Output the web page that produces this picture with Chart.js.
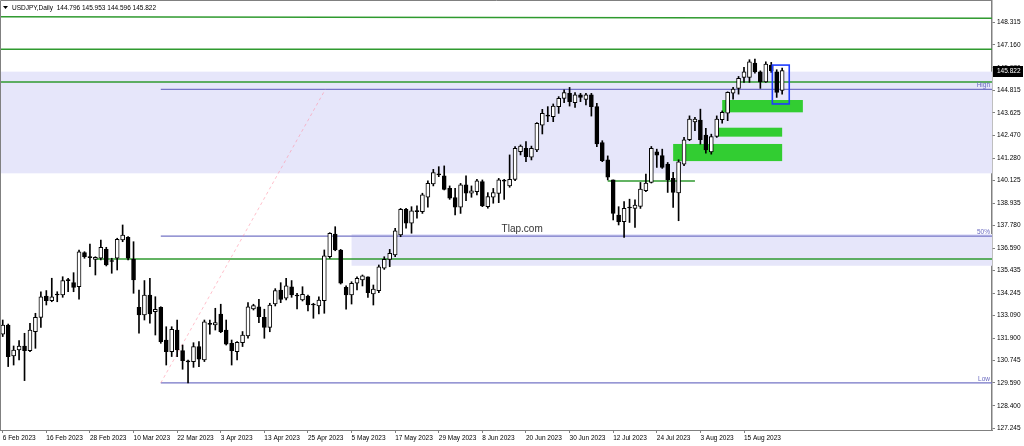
<!DOCTYPE html>
<html>
<head>
<meta charset="utf-8">
<script src="https://cdn.jsdelivr.net/npm/chart.js@4.4.0/dist/chart.umd.min.js"></script>
<style>
  html, body { margin: 0; padding: 0; background: #fff; }
  #wrap { width: 1024px; height: 446px; }
</style>
</head>
<body>
<div id="wrap"><canvas id="chart" width="1024" height="446"></canvas></div>
<script>
// USDJPY daily candles, 6 Feb 2023 .. 24 Aug 2023
const opens = [
  132.13, 132.60, 130.99, 131.30, 131.51, 131.27, 132.25, 133.00, 134.11, 133.87,
  134.16, 134.16, 134.91, 134.80, 134.59, 136.36, 136.10, 136.01, 136.07, 136.53,
  135.90, 136.07, 137.02, 137.16, 136.01, 133.52, 133.12, 134.16, 133.29, 133.52,
  131.82, 131.22, 132.34, 131.27, 130.70, 130.70, 131.48, 130.78, 132.64, 132.60,
  133.17, 132.34, 131.65, 131.22, 131.68, 132.03, 133.43, 133.55, 133.00, 132.48,
  133.69, 134.42, 133.99, 134.59, 134.12, 133.90, 134.11, 133.64, 133.59, 133.87,
  136.15, 137.33, 136.50, 134.56, 134.16, 134.77, 134.94, 135.11, 134.21, 134.39,
  135.55, 136.01, 136.24, 137.28, 138.61, 137.89, 138.50, 138.49, 139.24, 139.93,
  140.40, 140.35, 139.70, 139.22, 138.72, 139.88, 139.45, 139.53, 140.05, 138.75,
  139.24, 139.44, 140.08, 139.83, 140.17, 141.61, 141.78, 141.32, 141.70, 142.99,
  143.46, 143.43, 143.95, 144.38, 144.64, 144.16, 144.56, 144.33, 144.56, 143.95,
  142.08, 141.18, 140.14, 138.32, 137.97, 138.68, 138.66, 138.76, 139.58, 140.01,
  141.60, 141.40, 140.96, 140.22, 139.46, 140.96, 142.23, 143.16, 143.25, 142.47,
  141.60, 142.40, 143.27, 143.61, 144.65, 144.90, 145.47, 145.47, 146.21, 145.76,
  145.24, 146.11, 145.76, 144.796
];
const highs = [
  132.86, 132.65, 131.51, 131.79, 132.17, 132.69, 133.21, 134.33, 134.39, 135.03,
  134.33, 135.11, 135.03, 135.32, 136.50, 136.41, 136.81, 136.15, 137.02, 136.64,
  136.07, 137.11, 137.80, 137.19, 136.93, 134.42, 134.91, 135.03, 134.07, 133.55,
  132.51, 132.51, 132.86, 131.56, 130.78, 131.68, 131.74, 132.86, 132.86, 133.47,
  133.68, 132.86, 131.82, 131.74, 132.26, 133.76, 133.68, 133.93, 133.42, 133.73,
  134.49, 134.80, 135.03, 134.91, 134.25, 134.59, 134.16, 133.73, 134.07, 136.50,
  137.40, 137.71, 136.53, 134.63, 134.85, 135.11, 135.20, 135.11, 134.68, 135.72,
  136.15, 136.53, 137.62, 138.66, 138.66, 138.75, 138.79, 139.45, 140.10, 140.69,
  140.83, 140.87, 139.83, 139.70, 139.96, 140.35, 139.83, 140.17, 140.14, 139.48,
  139.70, 140.22, 140.17, 141.44, 141.87, 141.96, 142.13, 141.90, 143.12, 143.81,
  143.95, 144.09, 144.47, 144.82, 144.95, 144.68, 144.64, 144.64, 144.64, 144.12,
  142.18, 141.39, 140.14, 138.75, 139.01, 139.14, 139.11, 140.01, 140.44, 141.88,
  141.74, 141.74, 141.05, 140.53, 141.19, 142.35, 143.47, 143.39, 143.82, 142.82,
  142.52, 143.47, 143.73, 144.72, 144.95, 145.52, 145.99, 146.39, 146.42, 145.81,
  146.28, 146.25, 145.87, 145.953
];
const lows = [
  132.00, 130.44, 130.52, 130.78, 129.71, 131.22, 131.39, 132.48, 133.64, 133.81,
  133.81, 134.04, 134.33, 134.33, 133.94, 136.07, 135.63, 135.20, 135.98, 135.67,
  135.29, 135.46, 136.93, 135.98, 134.25, 132.17, 132.86, 132.69, 132.08, 131.65,
  130.52, 130.96, 130.96, 130.30, 129.59, 130.40, 130.44, 130.70, 132.13, 132.34,
  132.20, 131.56, 130.52, 130.78, 131.48, 131.91, 133.38, 132.72, 131.91, 132.25,
  133.59, 133.76, 133.90, 134.04, 133.43, 133.85, 133.33, 132.95, 133.17, 133.21,
  136.07, 136.46, 134.73, 133.42, 133.69, 134.42, 134.63, 134.04, 133.64, 134.28,
  135.49, 135.63, 136.15, 137.19, 137.63, 137.37, 138.15, 138.40, 138.72, 139.83,
  140.31, 139.62, 139.13, 138.32, 138.40, 139.06, 139.24, 139.36, 138.75, 138.67,
  138.93, 138.96, 139.13, 139.76, 140.10, 141.44, 141.09, 141.18, 141.61, 142.53,
  143.17, 143.17, 143.60, 144.16, 143.98, 143.91, 144.21, 144.04, 143.46, 141.87,
  141.09, 140.14, 138.06, 137.80, 137.15, 137.93, 137.67, 138.66, 139.53, 139.98,
  140.79, 140.74, 139.49, 138.71, 138.02, 140.88, 142.18, 142.70, 142.00, 141.53,
  141.48, 142.35, 143.09, 143.22, 144.34, 144.60, 145.21, 145.21, 145.69, 144.90,
  145.21, 145.73, 144.43, 144.596
];
const closes = [
  132.60, 130.96, 131.30, 131.51, 131.27, 132.34, 133.00, 134.07, 133.87, 134.07,
  134.18, 134.91, 134.93, 134.56, 136.41, 136.15, 136.11, 136.12, 136.64, 135.72,
  135.92, 137.05, 137.28, 136.07, 134.94, 133.12, 134.16, 133.17, 133.42, 131.74,
  131.22, 132.38, 131.30, 130.75, 130.68, 131.48, 130.82, 132.77, 132.63, 132.72,
  132.25, 131.61, 131.27, 131.70, 132.08, 133.55, 133.61, 133.03, 132.48, 133.64,
  134.39, 133.93, 134.63, 134.16, 134.11, 134.20, 133.64, 133.65, 133.90, 136.19,
  137.37, 136.50, 134.77, 134.16, 134.77, 135.03, 135.15, 134.28, 134.47, 135.63,
  136.01, 136.33, 137.50, 138.61, 137.89, 138.53, 138.49, 139.36, 139.96, 140.52,
  140.42, 139.65, 139.19, 138.72, 139.88, 139.45, 139.58, 140.10, 138.79, 139.27,
  139.48, 140.14, 140.09, 140.17, 141.78, 141.90, 141.35, 141.78, 143.08, 143.60,
  143.47, 143.98, 144.38, 144.68, 144.21, 144.56, 144.43, 144.56, 143.95, 142.01,
  141.14, 140.28, 138.40, 137.97, 138.66, 138.69, 138.83, 139.66, 139.98, 141.78,
  141.43, 140.79, 140.15, 139.49, 141.08, 142.23, 143.30, 143.30, 142.23, 141.70,
  142.40, 143.30, 143.65, 144.69, 144.86, 145.42, 145.76, 146.28, 145.76, 145.24,
  146.16, 145.81, 144.69, 145.822
];

// price axis labels as MetaTrader printed them
const yTicks = [148.315, 147.160, 145.970, 144.815, 143.625, 142.470, 141.280, 140.125,
  138.935, 137.780, 136.590, 135.435, 134.245, 133.090, 131.900, 130.745, 129.590,
  128.400, 127.245];
const yMin = 127.143;
const yMax = 149.441;

const totalSlots = 182;   // bars plus the empty shift on the right
const labelEvery = 8;

// analysis objects, [fromBar, price, toBar, price]
const greenLines = [
  [-1, 148.62, 182, 148.55],
  [-1, 146.93, 182, 146.93],
  [-1, 145.23, 182, 145.23],
  [17, 136.03, 182, 136.03],
  [111, 140.09, 127, 140.09]
];
const lavenderZones = [
  [-1, 145.77, 182, 140.485],
  [64, 137.33, 182, 135.68]
];
const greenZones = [
  [132, 144.295, 146.8, 143.655],
  [131.2, 142.855, 143, 142.39],
  [123, 142.01, 143, 141.12]
];
const blueBox = [141.2, 146.11, 144.3, 144.09];
const fibFrom = [29, 129.59];
const fibTo = [59.2, 144.85];
const fibLevels = [144.85, 137.22, 129.59];
const fibNames = ['High', '50%', 'Low'];
const watermark = ['Tlap.com', 95.3, 137.59];
const header = 'USDJPY,Daily  144.796 145.953 144.596 145.822';

const FONT = '"Liberation Sans", Arial, sans-serif';

// weekday labels starting 6 Feb 2023
const months = ['Jan', 'Feb', 'Mar', 'Apr', 'May', 'Jun', 'Jul', 'Aug', 'Sep', 'Oct', 'Nov', 'Dec'];
const dates = [];
const d = new Date(Date.UTC(2023, 1, 6));
while (dates.length < totalSlots) {
  const wd = d.getUTCDay();
  if (wd !== 0 && wd !== 6) {
    dates.push(d.getUTCDate() + ' ' + months[d.getUTCMonth()] + ' ' + d.getUTCFullYear());
  }
  d.setUTCDate(d.getUTCDate() + 1);
}

const bodies = opens.map((o, i) => [o, closes[i]]);
const wicks = lows.map((l, i) => [l, highs[i]]);
const bodyColors = opens.map((o, i) => {
  if (Math.abs(closes[i] - o) < 0.04) return '#000000';
  return closes[i] > o ? '#ffffff' : '#000000';
});

const overlay = {
  id: 'overlay',
  beforeDatasetsDraw(chart) {
    const { ctx, chartArea: a, scales: { x, y } } = chart;
    const px = v => x.getPixelForValue(v);
    const py = v => y.getPixelForValue(v);
    ctx.save();
    ctx.beginPath();
    ctx.rect(a.left, a.top, a.right - a.left, a.bottom - a.top);
    ctx.clip();

    ctx.fillStyle = '#e6e6fa';
    lavenderZones.forEach(z => {
      ctx.fillRect(px(z[0]), py(z[1]), px(z[2]) - px(z[0]), py(z[3]) - py(z[1]));
    });
    ctx.fillStyle = '#32cd32';
    greenZones.forEach(z => {
      ctx.fillRect(px(z[0]), py(z[1]), px(z[2]) - px(z[0]), py(z[3]) - py(z[1]));
    });

    ctx.strokeStyle = '#2f9a2f';
    ctx.lineWidth = 1.5;
    greenLines.forEach(l => {
      ctx.beginPath();
      ctx.moveTo(px(l[0]), py(l[1]));
      ctx.lineTo(px(l[2]), py(l[3]));
      ctx.stroke();
    });

    // fibonacci levels
    ctx.strokeStyle = '#7474c6';
    ctx.lineWidth = 1.3;
    fibLevels.forEach(v => {
      ctx.beginPath();
      ctx.moveTo(px(fibFrom[0]), py(v));
      ctx.lineTo(a.right, py(v));
      ctx.stroke();
    });
    ctx.strokeStyle = 'rgba(255,140,160,0.55)';
    ctx.lineWidth = 1;
    ctx.setLineDash([3, 3]);
    ctx.beginPath();
    ctx.moveTo(px(fibFrom[0]), py(fibFrom[1]));
    ctx.lineTo(px(fibTo[0]), py(fibTo[1]));
    ctx.stroke();
    ctx.setLineDash([]);
    ctx.restore();
  },
  afterDatasetsDraw(chart) {
    const { ctx, chartArea: a, scales: { x, y } } = chart;
    const px = v => x.getPixelForValue(v);
    const py = v => y.getPixelForValue(v);
    ctx.save();
    ctx.strokeStyle = '#1f3dff';
    ctx.lineWidth = 1.6;
    ctx.strokeRect(px(blueBox[0]), py(blueBox[1]), px(blueBox[2]) - px(blueBox[0]), py(blueBox[3]) - py(blueBox[1]));

    ctx.fillStyle = '#6a6ac0';
    ctx.font = '6.5px ' + FONT;
    ctx.textAlign = 'right';
    ctx.textBaseline = 'bottom';
    fibLevels.forEach((v, i) => ctx.fillText(fibNames[i], a.right - 2, py(v) - 0.5));

    ctx.fillStyle = '#333333';
    ctx.font = '10px ' + FONT;
    ctx.textAlign = 'center';
    ctx.textBaseline = 'middle';
    ctx.fillText(watermark[0], px(watermark[1]), py(watermark[2]));
    ctx.restore();
  },
  afterDraw(chart) {
    const { ctx, chartArea: a, scales: { y } } = chart;
    ctx.save();
    // frame
    ctx.strokeStyle = '#808080';
    ctx.lineWidth = 1;
    ctx.beginPath();
    ctx.moveTo(0.5, a.bottom);
    ctx.lineTo(0.5, 0.5);
    ctx.lineTo(a.right, 0.5);
    ctx.stroke();

    // header
    ctx.fillStyle = '#000';
    ctx.beginPath();
    ctx.moveTo(3, 6);
    ctx.lineTo(8, 6);
    ctx.lineTo(5.5, 9);
    ctx.closePath();
    ctx.fill();
    ctx.font = '6.5px ' + FONT;
    ctx.textAlign = 'left';
    ctx.textBaseline = 'middle';
    ctx.fillText(header, 12, 8);

    // last price tag
    const last = closes[closes.length - 1];
    const yy = Math.round(y.getPixelForValue(last));
    ctx.fillStyle = '#000';
    ctx.fillRect(a.right + 1, yy - 5, 30, 11);
    ctx.fillStyle = '#fff';
    ctx.fillText(last.toFixed(3), a.right + 5, yy + 0.5);
    ctx.restore();
  }
};

new Chart(document.getElementById('chart'), {
  type: 'bar',
  data: {
    labels: dates,
    datasets: [
      {
        label: 'body',
        data: bodies,
        backgroundColor: bodyColors,
        borderColor: '#000',
        borderWidth: 1,
        borderSkipped: false,
        barThickness: 4,
        minBarLength: 1,
        grouped: false,
        order: 1
      },
      {
        label: 'wick',
        data: wicks,
        backgroundColor: '#000',
        borderWidth: 0,
        barThickness: 1,
        grouped: false,
        order: 2
      }
    ]
  },
  options: {
    responsive: false,
    animation: false,
    devicePixelRatio: 1,
    layout: { padding: { top: 1, left: 0, right: 0, bottom: 0 }, autoPadding: false },
    plugins: { legend: { display: false }, tooltip: { enabled: false } },
    scales: {
      x: {
        offset: true,
        grid: { display: true, drawOnChartArea: false, drawTicks: true, tickLength: 3, offset: false, color: '#808080' },
        border: { display: true, color: '#808080', width: 1 },
        ticks: {
          autoSkip: false,
          maxRotation: 0,
          minRotation: 0,
          align: 'start',
          padding: 1,
          color: '#000',
          font: { family: FONT, size: 6.5 },
          callback: function (v, i) {
            return (i % labelEvery === 0 && i < opens.length) ? this.getLabelForValue(v) : null;
          }
        },
        afterFit(s) { s.height = 16; s.paddingLeft = 0; s.paddingRight = 0; }
      },
      y: {
        position: 'right',
        min: yMin,
        max: yMax,
        grid: { display: true, drawOnChartArea: false, drawTicks: true, tickLength: 3, color: '#808080' },
        border: { display: true, color: '#808080', width: 1.5 },
        ticks: {
          autoSkip: false,
          padding: 2,
          color: '#000',
          font: { family: FONT, size: 6.5 },
          callback: v => v.toFixed(3)
        },
        afterBuildTicks(s) { s.ticks = yTicks.map(v => ({ value: v })); },
        afterFit(s) { s.width = 32; s.paddingTop = 0; s.paddingBottom = 0; }
      }
    }
  },
  plugins: [overlay]
});
</script>
</body>
</html>
